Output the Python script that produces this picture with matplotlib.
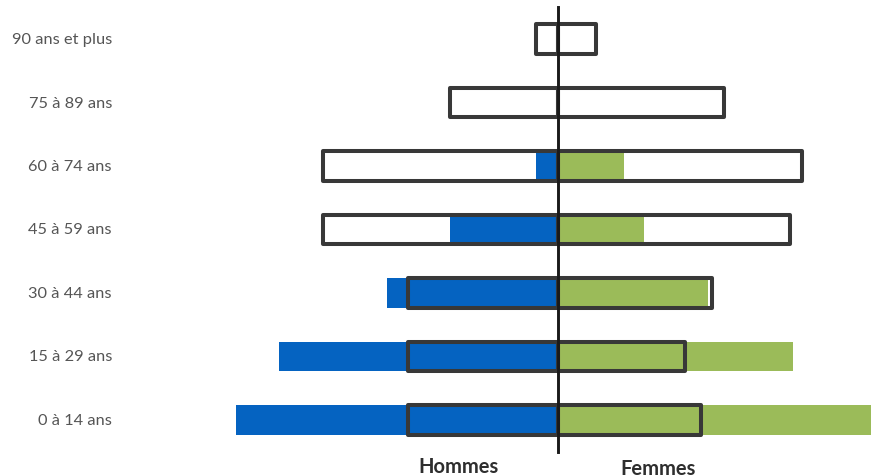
import matplotlib
matplotlib.use('Agg')
import matplotlib.pyplot as plt
import numpy as np

# Pyramide des ages (unites arbitraires)
groupes = ['0 à 14 ans', '15 à 29 ans', '30 à 44 ans', '45 à 59 ans',
           '60 à 74 ans', '75 à 89 ans', '90 ans et plus']
hommes = [32.2, 27.9, 17.1, 10.8, 2.2, 0, 0]
femmes = [33.5, 23.5, 15.0, 8.6, 6.6, 0, 0]
hommes_ref = [15.0, 15.0, 15.0, 23.5, 23.5, 10.8, 2.2]
femmes_ref = [14.3, 12.7, 15.4, 23.2, 24.4, 16.6, 3.8]

bleu = '#0563C1'
vert = '#9BBB59'
bord = '#383838'

fig = plt.figure(figsize=(8.71, 4.77), dpi=100)
ax = fig.add_axes([0, 0, 1, 1])
y = np.arange(len(groupes))
h = 0.47

ax.barh(y, [-v for v in hommes], height=h, color=bleu, zorder=1)
ax.barh(y, femmes, height=h, color=vert, zorder=1)
ax.barh(y, [-v for v in hommes_ref], height=h, fill=False, edgecolor=bord,
        linewidth=2.9, joinstyle='round', zorder=2)
ax.barh(y, femmes_ref, height=h, fill=False, edgecolor=bord,
        linewidth=2.9, joinstyle='round', zorder=2)
ax.axvline(0, ymin=0.05, ymax=0.983, color='#1a1a1a', linewidth=2.1, zorder=3)

ax.set_xlim(-55.8, 31.3)
ax.set_ylim(-0.882, 6.63)
ax.axis('off')

for yi, g in zip(y, groupes):
    ax.text(-44.6, yi, g, ha='right', va='center', fontsize=11.8,
            color='#555555', family='Lato')
ax.text(-10, -0.72, 'Hommes', ha='center', va='center', fontsize=14.5,
        fontweight='bold', color='#2e2e2e', family='Lato')
ax.text(10, -0.75, 'Femmes', ha='center', va='center', fontsize=14.5,
        fontweight='bold', color='#2e2e2e', family='Lato')

fig.savefig('out.png', dpi=100)
